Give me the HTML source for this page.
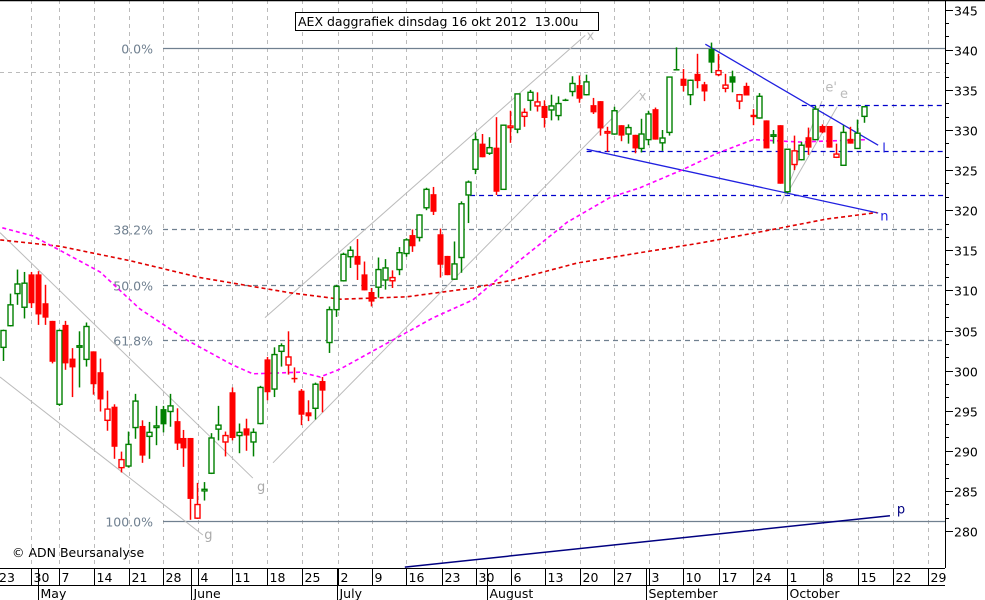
<!DOCTYPE html>
<html><head><meta charset="utf-8"><title>AEX daggrafiek</title>
<style>
html,body{margin:0;padding:0;background:#fff;}
svg{display:block;font-family:"DejaVu Sans","Liberation Sans",sans-serif;}
</style></head>
<body>
<svg id="chart" width="985" height="600" viewBox="0 0 985 600" xmlns="http://www.w3.org/2000/svg">
<rect x="0" y="0" width="985" height="600" fill="#fff"/>
<g id="grid"></g>
<g id="annot"></g>
<g id="ma"></g>
<g id="candles"></g>
<g id="axes"></g>
<rect x="295.5" y="12.5" width="303" height="18" fill="#fff" stroke="#000" stroke-width="1"/>
<text x="298" y="26" font-size="12.5" fill="#000" xml:space="preserve" style="white-space:pre">AEX daggrafiek dinsdag 16 okt 2012  13.00u</text>
<text x="12" y="557" font-size="12.5" fill="#000">© ADN Beursanalyse</text>
</svg>
<script>
const opens=[302.9,305.6,309.6,307.9,312.0,312.0,308.4,306.2,295.8,305.7,301.5,303.0,301.4,302.4,299.8,293.8,295.5,287.9,288.1,292.9,293.1,291.8,292.9,295.2,294.9,293.7,291.6,291.6,281.6,285.0,287.2,292.7,291.1,297.3,291.9,292.8,291.1,293.4,301.4,297.7,302.4,300.7,299.1,297.5,294.8,295.3,298.7,303.5,307.6,311.2,314.2,314.3,312.0,309.8,310.4,311.3,311.2,312.6,314.6,316.9,316.6,320.3,322.0,317.0,314.3,311.4,314.1,321.9,325.1,328.3,327.1,327.8,322.6,330.3,330.1,331.7,333.7,333.0,333.0,332.5,331.8,333.8,334.8,335.6,334.4,333.1,333.6,329.7,329.5,330.6,329.5,329.4,327.7,328.8,332.6,328.4,329.7,337.6,336.4,334.4,337.0,335.7,340.1,336.9,335.2,336.7,333.6,335.5,331.9,331.5,331.2,329.3,330.6,322.3,325.7,326.3,329.1,328.8,330.5,330.5,326.6,325.6,328.9,327.7,331.7];
const highs=[305.1,309.6,312.6,312.3,312.3,312.4,310.7,306.2,305.1,306.2,302.8,304.9,306.0,302.4,301.5,297.5,295.8,289.9,292.4,297.1,293.8,293.6,295.6,295.6,297.1,295.3,292.6,291.6,286.0,286.1,292.2,295.6,292.4,297.9,293.4,294.0,292.8,298.1,301.7,302.9,303.4,304.9,300.4,297.7,296.3,298.5,299.2,308.0,310.7,314.7,315.5,316.4,313.6,310.3,314.1,313.9,312.5,315.4,316.5,317.6,319.5,322.8,322.9,317.7,314.3,316.1,321.1,323.7,329.7,329.5,329.1,331.6,330.6,332.4,334.5,332.7,335.0,334.7,333.7,334.4,334.2,333.9,336.7,336.8,336.9,334.0,333.6,330.4,332.9,330.6,330.7,329.4,331.4,332.4,332.8,330.0,336.6,340.3,337.6,336.3,339.5,336.0,340.9,339.5,337.0,337.4,334.5,335.9,332.6,334.6,331.2,330.0,330.6,327.6,329.3,328.5,330.3,333.0,330.7,330.5,328.3,330.6,330.4,331.3,333.0];
const lows=[301.2,305.5,308.2,306.5,307.8,305.7,305.7,300.9,295.6,300.1,296.7,297.9,300.5,297.0,294.9,292.5,289.0,287.3,287.9,291.5,288.5,289.0,290.7,292.3,293.0,290.1,288.0,281.4,281.5,283.8,287.1,291.3,289.3,291.3,289.7,290.0,289.3,293.3,296.3,296.7,300.5,299.5,298.5,293.2,293.7,293.9,294.8,302.2,306.7,311.1,312.8,311.3,310.0,308.0,309.1,310.1,310.3,311.9,314.2,314.8,316.1,320.0,319.4,311.6,311.9,311.3,312.2,318.4,324.5,326.6,326.9,321.9,322.6,328.4,329.6,330.4,332.4,332.3,330.3,331.2,331.2,333.6,334.2,333.4,334.3,332.0,329.3,327.3,329.4,328.6,328.3,327.1,327.2,328.1,328.8,327.4,329.3,337.5,334.8,333.1,335.2,333.6,337.1,336.7,334.7,334.7,332.6,334.3,330.6,331.4,327.7,328.3,323.3,322.1,325.0,326.2,326.9,328.8,329.6,327.8,326.5,325.6,328.3,327.7,330.9];
const closes=[305.0,308.2,310.8,310.9,308.4,307.0,306.6,301.1,305.0,300.9,300.4,303.1,305.5,298.3,296.4,295.2,290.5,288.9,290.8,296.2,289.4,292.3,293.1,293.3,295.6,290.9,290.3,284.0,283.3,285.2,291.6,293.2,291.9,291.6,292.3,291.9,292.3,297.9,297.3,302.0,303.1,301.7,299.0,294.5,294.3,298.3,297.5,307.6,310.5,314.5,315.0,313.2,310.0,308.6,312.6,312.8,311.6,314.7,316.3,315.5,319.4,322.6,319.8,313.2,311.9,313.3,320.8,323.5,328.8,326.6,327.8,322.3,330.6,330.5,334.5,332.2,334.7,333.5,331.5,333.0,333.3,333.7,335.8,333.9,336.0,332.2,330.2,329.8,332.4,329.3,330.3,327.7,329.5,332.0,328.8,329.0,336.6,337.5,335.5,336.2,336.1,334.8,338.4,337.4,335.6,335.9,334.4,334.3,331.6,334.2,327.7,329.4,323.3,327.6,327.4,328.1,327.8,332.6,329.7,327.8,327.0,329.7,328.3,329.6,332.9];

const maLongIdx=[-0.4,8.2,18.3,28.4,41.4,48.6,58.2,67.7,73.5,82.7,91.8,100.4,109.1,118.7,125.9];
const maLongVal=[316.3,315.5,313.7,311.6,309.7,308.9,309.2,310.3,311.3,313.4,314.7,315.9,317.3,318.9,319.7];
const maShortIdx=[-0.1,4.3,8.2,14.0,19.7,26.5,33.1,36.0,42.8,45.7,48.6,62.0,67.7,74.1,81.3,87.5,91.8,97.8,102.9,108.1,114.8,124.5];
const maShortVal=[317.8,316.8,315.0,312.3,307.7,303.8,300.7,299.6,299.8,299.2,300.2,306.6,308.8,313.5,318.5,321.6,322.8,325.0,327.1,328.8,328.5,328.8];

const dayLabels=["23","30","7","14","21","28","4","11","18","25","2","9","16","23","30","6","13","20","27","3","10","17","24","1","8","15","22","29"];
const dayTickIdx=[-0.94,4.03,8.07,13.11,18.16,23.05,28.1,33.0,38.04,43.08,48.27,53.17,58.07,63.26,68.16,73.2,78.1,83.14,88.04,93.08,97.98,103.17,108.07,112.97,118.16,123.2,128.24,133.29];
const monthLabels=["May","June","July","August","September","October"];
const monthIdx=[5.04,27.1,48.1,69.7,92.65,113.0];
const priceTicks=[280,285,290,295,300,305,310,315,320,325,330,335,340,345];

const fibLabels=["0.0%","38.2%","50.0%","61.8%","100.0%"];
const fibHigh=340.2, fibLow=281.25;
const fibRatios=[0,0.382,0.5,0.618,1];

const PL=0,PR=945,PT=0,PB=568;
function xS(i){return 3+i*6.94;}
function yS(p){return 531-(p-280)*8.02;}
const NS="http://www.w3.org/2000/svg";
function mk(tag,attrs,parent){const e=document.createElementNS(NS,tag);for(const k in attrs)e.setAttribute(k,attrs[k]);parent.appendChild(e);return e;}
const grid=document.getElementById('grid'),annot=document.getElementById('annot'),maG=document.getElementById('ma'),cg=document.getElementById('candles'),axes=document.getElementById('axes');

dayTickIdx.forEach((d,k)=>{const x=Math.round(xS(d))+0.5;if(x<1)return;
 const l=mk('line',{x1:x,y1:PT,x2:x,y2:PB,stroke:'#bbb','stroke-dasharray':'4,4'},grid);
 
 });
[337.23].forEach(p=>{const y=Math.round(yS(p))+0.5;
 const l=mk('line',{x1:PL,y1:y,x2:PR,y2:y,stroke:'#bbb','stroke-dasharray':'4,4'},grid);
 
 });
fibRatios.forEach((r,k)=>{const p=fibHigh-r*(fibHigh-fibLow);const y=Math.round(yS(p))+0.5;
 const a={x1:163,y1:y,x2:PR,y2:y,stroke:'#708090','stroke-width':1.3};
 if(r>0&&r<1)a['stroke-dasharray']='5,4';
 const l=mk('line',a,grid);
 
 
 const t=mk('text',{x:153,y:y+5,'text-anchor':'end','font-size':'12.5',fill:'#708090'},grid);t.textContent=fibLabels[k];
 
 });

function seg(i1,p1,i2,p2,col,w,dash,name){const a={x1:xS(i1),y1:yS(p1),x2:xS(i2),y2:yS(p2),stroke:col,'stroke-width':w};if(dash)a['stroke-dasharray']=dash;const l=mk('line',a,annot);
 
 return l;}
function lab(i,p,txt,col,name){const t=mk('text',{x:xS(i),y:yS(p),'font-size':'13',fill:col},annot);t.textContent=txt;
 
 }
seg(-0.43,317.2,36.0,286.6,'#bbb',1,null,'channel-g-upper');
seg(-0.43,299.2,28.8,279.5,'#bbb',1,null,'channel-g-lower');
seg(37.75,306.6,83.9,341.8,'#bbb',1,null,'channel-x-upper');
seg(38.9,288.5,91.8,335.0,'#bbb',1,null,'channel-x-lower');
seg(112.1,320.8,118.0,333.6,'#bbb',1,null,'trend-e-prime');
seg(113.0,322.1,120.2,332.9,'#bbb',1,null,'trend-e');
lab(36.6,285.0,'g','#aaa','label-g1');lab(29.0,279.0,'g','#aaa','label-g2');
lab(84.1,341.2,'x','#bbb','label-x1');lab(91.6,333.7,'x','#bbb','label-x2');
lab(118.5,334.8,"e'",'#bbb','label-e-prime');lab(120.6,334.0,'e','#bbb','label-e');
[[333.1,115.1],[327.4,84.1],[321.9,67.3]].forEach(([p,i])=>{const y=Math.round(yS(p))+0.5;
 const l=mk('line',{x1:xS(i),y1:y,x2:PR,y2:y,stroke:'#0000cc','stroke-width':1.3,'stroke-dasharray':'5,4'},annot);
 
 });
seg(101.2,340.7,126.1,328.1,'#2020e0',1.3,null,'trendline-l');
seg(84.1,327.6,126.1,319.65,'#2020e0',1.3,null,'trendline-n');
seg(57.9,275.5,127.8,281.9,'#000080',1.5,null,'trendline-p');
lab(126.7,327.2,'l','#2020e0','label-l');lab(126.4,318.7,'n','#2020e0','label-n');lab(128.8,282.2,'p','#000080','label-p');

function maPath(idx,val,col,name){const d=idx.map((i,k)=>(k?'L':'M')+xS(i).toFixed(1)+','+yS(val[k]).toFixed(1)).join('');
 const p=mk('path',{d:d,fill:'none',stroke:col,'stroke-width':1.6,'stroke-dasharray':'4,3'},maG);
 
 }
maPath(maLongIdx,maLongVal,'#e00000','moving-average-long');
maPath(maShortIdx,maShortVal,'#ff00ff','moving-average-short');

closes.forEach((c,i)=>{const o=opens[i],h=highs[i],l=lows[i];const prev=i?closes[i-1]:o;
 const col=c<prev?'#ff0000':'#008000';const x=Math.round(xS(i))+0.5;
 const g=mk('g',{},cg);
 
 
 mk('line',{x1:x,y1:yS(h),x2:x,y2:yS(l),stroke:col,'stroke-width':1.5},g);
 const top=yS(Math.max(o,c)),bot=yS(Math.min(o,c));const hh=Math.max(bot-top,1.5);
 if(c>=o){mk('rect',{x:x-2.5,y:top,width:5,height:hh,fill:'#fff',stroke:col,'stroke-width':1.4},g);}
 else{mk('rect',{x:x-3,y:top,width:6,height:hh,fill:col},g);}});

function ln(x1,y1,x2,y2,name,w){const l=mk('line',{x1:x1,y1:y1,x2:x2,y2:y2,stroke:'#000','stroke-width':w||1},axes);
 
 }
ln(0,0.5,985,0.5,'top-border',1.5);
ln(PR+0.5,0,PR+0.5,PB,'right-axis-line');
ln(0,PB+0.5,PR,PB+0.5,'x-axis-line');
ln(0,585.5,PR,585.5,'x-axis-date-row-line');
priceTicks.forEach(p=>{const y=Math.round(yS(p))+0.5;ln(PR,y,PR+8,y,'y-tick-major');
 const t=mk('text',{x:954,y:y+5,'font-size':'12.5',fill:'#000'},axes);t.textContent=p;
 
 
 for(let k=1;k<3;k++){const ym=Math.round(yS(p+k*5/3))+0.5;if(ym>2)ln(PR,ym,PR+4,ym,'y-tick-minor');}});
dayTickIdx.forEach((d,k)=>{const x=Math.round(xS(d))+0.5;
 if(x>0)ln(x,PB,x,585,'x-tick');
 const t=mk('text',{x:Math.max(x+2,-1),y:582,'font-size':'12.5',fill:'#000'},axes);t.textContent=dayLabels[k];
 
 });
monthIdx.forEach((m,k)=>{const x=Math.round(xS(m))+0.5;ln(x,PB,x,600,'month-separator');
 const t=mk('text',{x:x+2,y:598,'font-size':'12.5',fill:'#000'},axes);t.textContent=monthLabels[k];
 
 });
</script>
</body></html>
